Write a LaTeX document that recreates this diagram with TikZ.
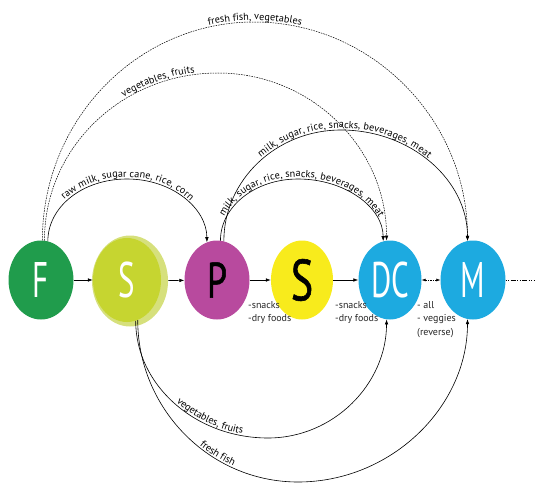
\documentclass[tikz,border=0pt]{standalone}
\usepackage{fontspec}
\setmainfont{PT Sans}
\newfontfamily\bigfont[FakeStretch=0.62]{PT Sans}
\newfontfamily\darkfont[FakeStretch=0.72, FakeBold=1]{PT Sans}
\usetikzlibrary{positioning,shapes.geometric,arrows.meta,decorations.text}
\definecolor{farm}{RGB}{32,156,76}
\definecolor{supp}{RGB}{198,213,48}
\definecolor{supphalo}{RGB}{214,224,124}
\definecolor{proc}{RGB}{184,74,158}
\definecolor{sell}{RGB}{248,235,28}
\definecolor{dist}{RGB}{29,170,224}
\newcommand\arcfont{\fontsize{10.2}{12}\selectfont}

\begin{document}
\begin{tikzpicture}[x=1pt, y=-1pt,
  c/.style={ellipse, inner sep=0pt, minimum width=65pt, minimum height=79pt, text=white, font=\bigfont\fontsize{50}{50}\selectfont},
  dark/.style={text=black, font=\darkfont\fontsize{50}{50}\selectfont},
  flow/.style={line width=0.6pt, -{Latex[length=5pt,width=3.6pt]}},
  dflow/.style={flow, line width=0.5pt, dash pattern=on 1.6pt off 1pt},
  both/.style={line width=0.5pt, dash pattern=on 1.5pt off 1pt, {Latex[length=4pt,width=3pt]}-{Latex[length=4pt,width=3pt]}},
  trail/.style={line width=0.6pt, dash pattern=on 1pt off 1.5pt on 1pt off 1.5pt on 5pt off 1.5pt},
  lbl/.style={font=\fontsize{10}{13.5}\selectfont, align=left, inner sep=0pt, anchor=north west, text=black!85},
  along/.style={postaction={decorate, decoration={text along path, text={|\arcfont|#1}, text align=center, raise=2pt}}},
  alongat/.style 2 args={postaction={decorate, decoration={text along path, text={|\arcfont|#2}, text align={left indent=#1}, raise=2pt}}}]
  \useasboundingbox (0,0) rectangle (536,487);

  \node [c, fill=farm] (F) at (41,280) {F};
  \node [c, fill=supphalo, minimum width=76pt, minimum height=91pt] (Sh) at (130,281) {};
  \node [c, fill=supp, minimum width=68pt, minimum height=84pt] (S1) at (127,280) {S};
  \node [c, fill=proc, dark] (P) at (217,280) {P};
  \node [c, fill=sell, dark, minimum width=62pt, font=\darkfont\fontsize{58}{58}\selectfont] (S2) at (302,280) {S};
  \node [c, fill=dist, minimum width=63pt] (DC) at (390,280) {DC};
  \node [c, fill=dist] (M) at (473,280) {M};
  \coordinate (end) at (535,280);

  % tops and bottoms of the arcs
  \coordinate (t1) at (127,179);
  \coordinate (t2) at (218,73);
  \coordinate (t3) at (254,22);
  \coordinate (t4) at (298,179);
  \coordinate (t5) at (341,130);
  \coordinate (b1) at (268,438);
  \coordinate (b2) at (298,482);

  \node [lbl] (snk1) at (248,301) {-snacks\\-dry foods};
  \node [lbl] (snk2) at (335,301) {-snacks\\-dry foods};
  \node [lbl] (rev) at (417,301) {- all\\- veggies\\(reverse)};

  % chain
  \path[flow] (F) edge (S1);
  \path[flow] (Sh) edge (P);
  \path[flow] (P) edge (S2);
  \path[flow] (S2) edge (DC);
  \path[both] (DC) edge (M);
  \draw[trail] (M) -- (end);

  % over the top
  \draw[flow, along={raw milk, sugar cane, rice, corn}] (F.80) .. controls +(0,-34) and +(-45,0) .. (t1) .. controls +(45,0) and +(0,-34) .. (P.105);
  \draw[dflow, alongat={170pt}{vegetables, fruits}] (F.85) .. controls +(0,-93) and +(-96,0) .. (t2) .. controls +(93,0) and +(0,-93) .. (DC.95);
  \draw[dflow, along={fresh fish, vegetables}] (F.88) .. controls +(0,-121) and +(-116,0) .. (t3) .. controls +(118,0) and +(0,-121) .. (M.98);
  \draw[flow, along={milk, sugar, rice, snacks, beverages, meat}] (P.85) .. controls +(0,-34) and +(-43,0) .. (t4) .. controls +(47,0) and +(0,-34) .. (DC.100);
  \draw[flow, along={milk, sugar, rice, snacks, beverages, meat}] (P.80) .. controls +(0,-61) and +(-65,0) .. (t5) .. controls +(70,0) and +(0,-61) .. (M.98);

  % underneath
  \draw[flow, alongat={95pt}{vegetables, fruits}] (S1.-78) .. controls +(0,64) and +(-73,0) .. (b1) .. controls +(66,0) and +(0,64) .. (DC.-95);
  \draw[flow, alongat={145pt}{fresh fish}] (S1.-75) .. controls +(0,88) and +(-89,0) .. (b2) .. controls +(93,0) and +(0,88) .. (M.-98);
\end{tikzpicture}
\end{document}
